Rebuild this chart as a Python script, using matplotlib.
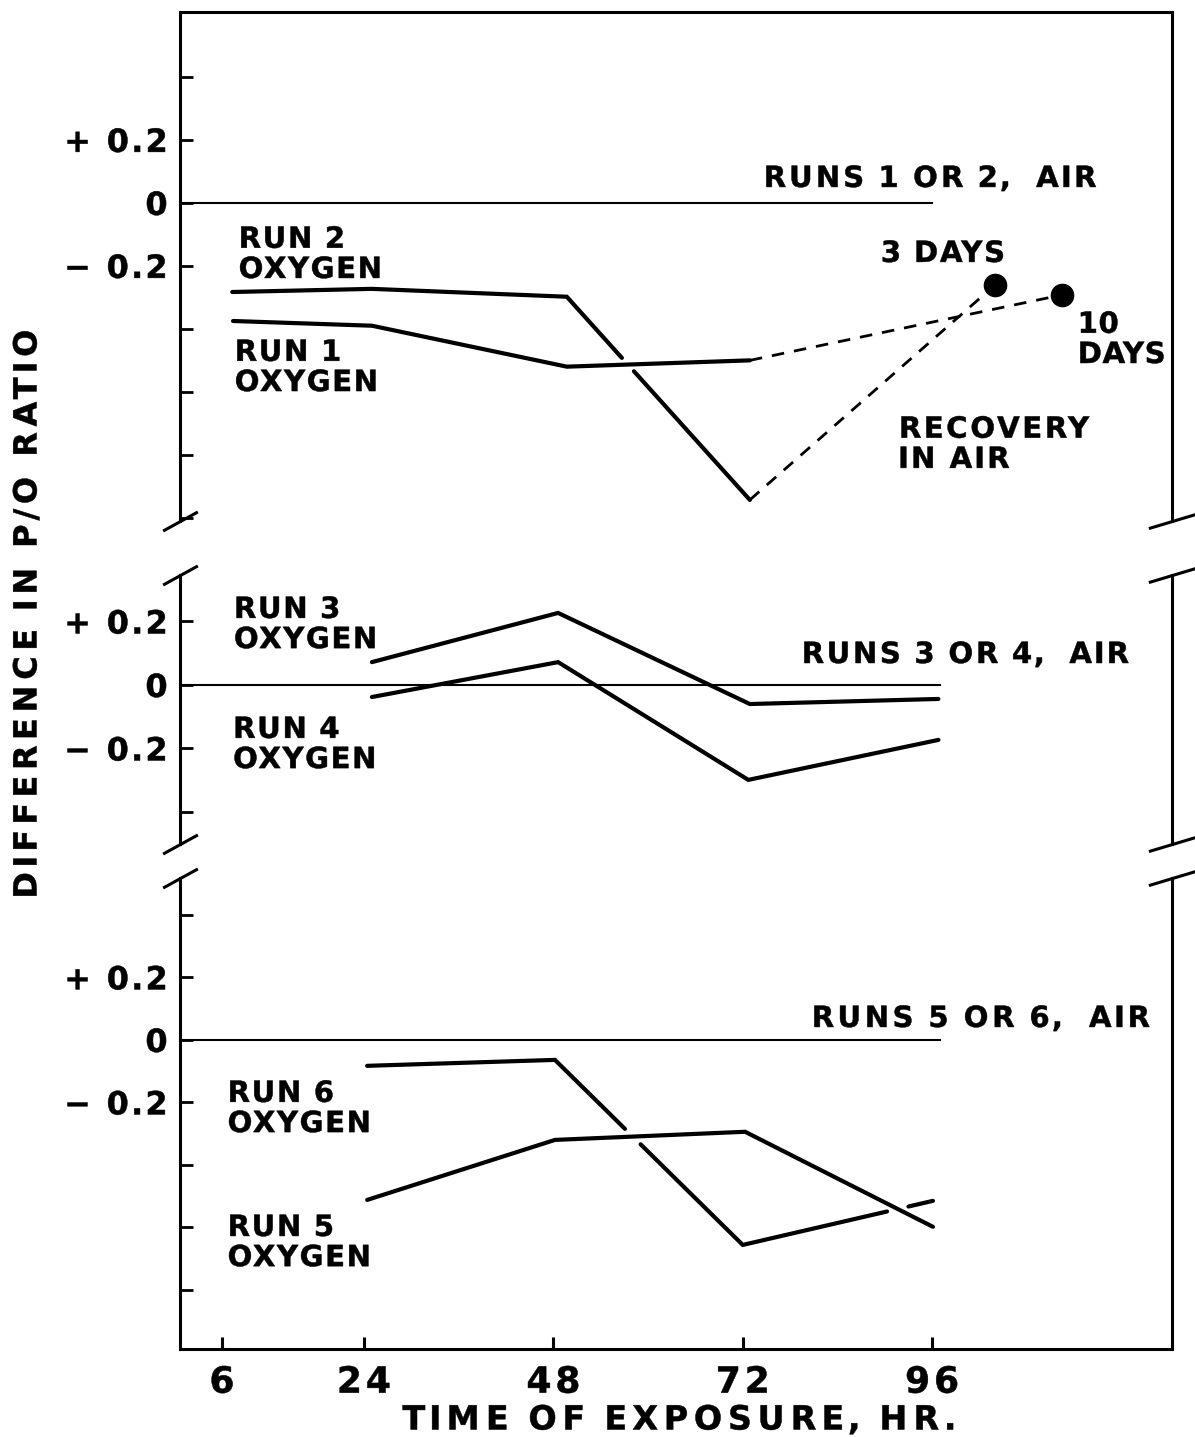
import numpy as np
import matplotlib
matplotlib.use("Agg")
import matplotlib.pyplot as plt
from matplotlib.patheffects import AbstractPathEffect
from matplotlib.path import Path

plt.rcParams['font.family'] = ['DejaVu Sans']
plt.rcParams['font.weight'] = 'bold'

# ---------------- data ----------------
# top panel: runs 1 and 2
run1_x = [7.4, 25.0, 49.7, 72.9]
run1_y = [-0.375, -0.390, -0.520, -0.500]
run2_x = [7.3, 25.0, 49.7, 72.9]
run2_y = [-0.283, -0.273, -0.298, -0.943]
recovery_x = [104.0, 112.5]          # 3 days, 10 days (drawn after 96 hr)
recovery_y = [-0.260, -0.292]
recovery_labels = ['3 DAYS', '10\nDAYS']

# middle panel: runs 3 and 4
run3_x = [25.0, 48.6, 72.9, 96.8]
run3_y = [0.072, 0.227, -0.060, -0.044]
run4_x = [25.0, 48.6, 72.7, 96.8]
run4_y = [-0.038, 0.072, -0.299, -0.173]

# bottom panel: runs 5 and 6
run5_x = [24.4, 48.2, 72.3, 96.1]
run5_y = [-0.512, -0.320, -0.294, -0.598]
run6_x = [24.4, 48.2, 72.0, 96.1]
run6_y = [-0.083, -0.064, -0.656, -0.515]

air_end = [96.0, 97.0, 97.0]          # where the air (zero) line stops

x_ticks = [6, 24, 48, 72, 96]
x_ticklabels = ['6', '24', '48', '72', '96']

top_yticks = [-1.0, -0.8, -0.6, -0.4, -0.2, 0.0, 0.2, 0.4]
mid_yticks = [-0.4, -0.2, 0.0, 0.2]
bot_yticks = [-0.8, -0.6, -0.4, -0.2, 0.0, 0.2, 0.4]
ylabel_map = {0.2: '+ 0.2', 0.0: '0', -0.2: '\u2212 0.2'}


class Track(AbstractPathEffect):
    """Wide letter spacing: moves each glyph outline apart without stretching it,
    and thickens the strokes slightly (like hand lettering)."""

    def __init__(self, factor, anchor='left', weight=0.35):
        super().__init__()
        self.f = factor
        self.anchor = anchor
        self.weight = weight

    def draw_path(self, renderer, gc, tpath, affine, rgbFace=None):
        v = np.array(tpath.vertices, dtype=float)
        c = tpath.codes
        if c is None or len(v) == 0:
            renderer.draw_path(gc, tpath, affine, rgbFace)
            return
        c = np.asarray(c)
        valid = c != Path.CLOSEPOLY
        xmin, xmax = v[valid, 0].min(), v[valid, 0].max()
        a = {'left': 0.0, 'center': (xmin + xmax) / 2, 'right': xmax}[self.anchor]
        starts = list(np.nonzero(c == Path.MOVETO)[0])
        if not starts or starts[0] != 0:
            starts = [0] + starts
        bounds = starts + [len(v)]
        nv = v.copy()
        for s, e in zip(bounds[:-1], bounds[1:]):
            m = c[s:e] != Path.CLOSEPOLY
            if not m.any():
                continue
            seg = v[s:e][m]
            cx = (seg[:, 0].min() + seg[:, 0].max()) / 2
            nv[s:e, 0] += (self.f - 1) * (cx - a)
        gc0 = renderer.new_gc()
        gc0.copy_properties(gc)
        gc0.set_linewidth(self.weight)
        if rgbFace is not None:
            gc0.set_foreground(rgbFace)
        gc0.set_joinstyle('round')
        renderer.draw_path(gc0, Path(nv, c), affine, rgbFace)
        gc0.restore()


# ---------------- figure ----------------
W, H = 1195, 1437
fig = plt.figure(figsize=(W / 100, H / 100), dpi=100)

left = 180 / W
width = (1172 - 180) / W
XLIM = (0.68, 126.4)

def fig_rect(top_px, bot_px):
    return [left, 1 - bot_px / H, width, (bot_px - top_px) / H]

ax_top = fig.add_axes(fig_rect(12, 521))
ax_mid = fig.add_axes(fig_rect(575, 844))
ax_bot = fig.add_axes(fig_rect(878, 1349))

ax_top.set_ylim(-1.010, 0.606)
ax_mid.set_ylim(-0.501, 0.3465)
ax_bot.set_ylim(-0.989, 0.518)

FS = 21
LW_DATA = 3.0
LW_ZERO = 1.5
LW_SPINE = 2.2

for ax, ticks in ((ax_top, top_yticks), (ax_mid, mid_yticks), (ax_bot, bot_yticks)):
    ax.set_xlim(*XLIM)
    ax.set_yticks(ticks)
    ax.set_yticklabels([ylabel_map.get(round(t, 2), '') for t in ticks])
    ax.tick_params(axis='y', direction='in', length=9, width=2.0, pad=8,
                   labelsize=23, right=False)
    for lbl in ax.get_yticklabels():
        lbl.set_path_effects([Track(1.13, 'right')])
    for side in ax.spines:
        ax.spines[side].set_linewidth(LW_SPINE)
    ax.set_facecolor('none')

ax_top.spines['bottom'].set_visible(False)
ax_mid.spines['bottom'].set_visible(False)
ax_mid.spines['top'].set_visible(False)
ax_bot.spines['top'].set_visible(False)

for ax in (ax_top, ax_mid):
    ax.tick_params(axis='x', bottom=False, labelbottom=False)

ax_bot.set_xticks(x_ticks)
ax_bot.set_xticklabels(x_ticklabels)
ax_bot.tick_params(axis='x', direction='in', length=9, width=2.2, pad=12,
                   labelsize=26)
for lbl in ax_bot.get_xticklabels():
    lbl.set_path_effects([Track(1.15, 'center')])


def plot_gapped(ax, xs, ys, cut_x, cut_y, gap_px, **kw):
    """Plot a polyline, leaving a small gap where it crosses another line."""
    T = ax.transData
    A = T.transform(np.column_stack([xs, ys]))
    B = T.transform(np.column_stack([cut_x, cut_y]))
    seg = np.diff(A, axis=0)
    seg_len = np.hypot(seg[:, 0], seg[:, 1])
    cum = np.concatenate([[0.0], np.cumsum(seg_len)])
    cuts = []
    for i in range(len(A) - 1):
        p, r = A[i], A[i + 1] - A[i]
        for j in range(len(B) - 1):
            q, s = B[j], B[j + 1] - B[j]
            den = r[0] * s[1] - r[1] * s[0]
            if abs(den) < 1e-9:
                continue
            qp = q - p
            t = (qp[0] * s[1] - qp[1] * s[0]) / den
            u = (qp[0] * r[1] - qp[1] * r[0]) / den
            if 0 <= t <= 1 and 0 <= u <= 1:
                cuts.append(cum[i] + t * seg_len[i])
    keep, start = [], 0.0
    for c in sorted(cuts):
        keep.append((start, c - gap_px / 2))
        start = c + gap_px / 2
    keep.append((start, cum[-1]))

    def point_at(d):
        idx = int(np.clip(np.searchsorted(cum, d, side='right') - 1, 0, len(A) - 2))
        t = (d - cum[idx]) / seg_len[idx]
        return A[idx] + t * (A[idx + 1] - A[idx])

    inv = T.inverted()
    for a, b in keep:
        if b <= a:
            continue
        pts = [point_at(a)] + [A[k] for k in range(len(A)) if a < cum[k] < b] + [point_at(b)]
        d = inv.transform(np.array(pts))
        ax.plot(d[:, 0], d[:, 1], **kw)


line_kw = dict(color='black', lw=LW_DATA, solid_capstyle='round',
               solid_joinstyle='miter')

# ---- zero (air) lines
for ax, xe in zip((ax_top, ax_mid, ax_bot), air_end):
    ax.plot([XLIM[0], xe], [0, 0], color='black', lw=LW_ZERO, clip_on=False)

# ---- top panel
ax_top.plot(run1_x, run1_y, **line_kw)
plot_gapped(ax_top, run2_x, run2_y, run1_x, run1_y, 18, **line_kw)
dash_kw = dict(color='black', lw=2.0, linestyle=(0, (4.5, 3.6)))
ax_top.plot([run2_x[-1], recovery_x[0]], [run2_y[-1], recovery_y[0]], **dash_kw)
ax_top.plot([run1_x[-1], recovery_x[1]], [run1_y[-1], recovery_y[1]], **dash_kw)
ax_top.plot(recovery_x, recovery_y, linestyle='none', marker='o',
            markersize=16, color='black', zorder=5)


def label(ax, x, y, s, track, ha='left', **extra):
    t = ax.text(x, y, s, ha=ha, va='center', fontsize=FS, fontweight='bold',
                color='black', linespacing=1.1, **extra)
    t.set_path_effects([Track(track, ha)])
    return t


label(ax_top, 74.45, 0.076, 'RUNS 1 OR 2,  AIR', 1.13)
label(ax_top, 8.0, -0.165, 'RUN 2\nOXYGEN', 1.07)
label(ax_top, 7.5, -0.524, 'RUN 1\nOXYGEN', 1.07)
label(ax_top, 89.4, -0.162, recovery_labels[0], 1.08)
label(ax_top, 114.4, -0.435, recovery_labels[1], 1.03)
label(ax_top, 91.6, -0.768, 'RECOVERY\nIN AIR', 1.12)

# ---- middle panel
ax_mid.plot(run3_x, run3_y, **line_kw)
ax_mid.plot(run4_x, run4_y, **line_kw)
label(ax_mid, 7.4, 0.189, 'RUN 3\nOXYGEN', 1.07)
label(ax_mid, 79.3, 0.0945, 'RUNS 3 OR 4,  AIR', 1.11)
label(ax_mid, 7.3, -0.189, 'RUN 4\nOXYGEN', 1.07)

# ---- bottom panel
ax_bot.plot(run5_x, run5_y, **line_kw)
plot_gapped(ax_bot, run6_x, run6_y, run5_x, run5_y, 22, **line_kw)
label(ax_bot, 80.5, 0.067, 'RUNS 5 OR 6,  AIR', 1.15)
label(ax_bot, 6.6, -0.221, 'RUN 6\nOXYGEN', 1.07)
label(ax_bot, 6.6, -0.650, 'RUN 5\nOXYGEN', 1.07)

# ---- axis-break slashes
left_slash = [(-1, -0.55), (1, 0.55)]
right_slash = [(-1, -0.3), (1, 0.3)]
bkw = dict(linestyle='none', color='black', mec='black', mew=2.2, clip_on=False)
for ax, ys in ((ax_top, [0]), (ax_mid, [0, 1]), (ax_bot, [1])):
    ax.plot([0] * len(ys), ys, transform=ax.transAxes, marker=left_slash,
            markersize=25, **bkw)
    ax.plot([1] * len(ys), ys, transform=ax.transAxes, marker=right_slash,
            markersize=34, **bkw)

# ---- axis titles
yl = fig.text(28 / W, 1 - 902 / H, 'DIFFERENCE IN P/O RATIO', rotation=90,
              ha='center', va='bottom', fontsize=23, fontweight='bold')
yl.set_path_effects([Track(1.24, 'left')])
xl = fig.text(400 / W, 1 - 1420 / H, 'TIME OF EXPOSURE, HR.', ha='left',
              va='center', fontsize=24, fontweight='bold')
xl.set_path_effects([Track(1.22, 'left')])

fig.savefig('out.png', dpi=100, facecolor='white')
